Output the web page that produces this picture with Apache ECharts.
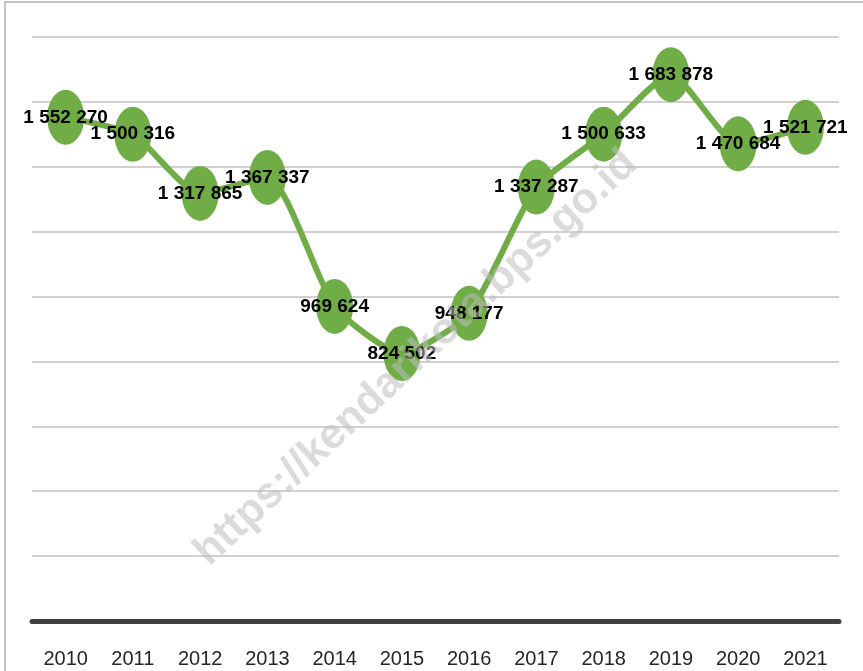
<!DOCTYPE html>
<html>
<head>
<meta charset="utf-8">
<script src="https://cdn.jsdelivr.net/npm/echarts@6/dist/echarts.min.js"></script>
<style>
  html, body { margin: 0; padding: 0; background: #fff; }
  #chart { width: 863px; height: 671px; }
</style>
</head>
<body>
<div id="chart"></div>
<script>
// data
const years = ["2010", "2011", "2012", "2013", "2014", "2015", "2016", "2017", "2018", "2019", "2020", "2021"];
const values = [1552270, 1500316, 1317865, 1367337, 969624, 824502, 948177, 1337287, 1500633, 1683878, 1470684, 1521721];

// "1 552 270" style
const fmt = (v) => String(v).replace(/\B(?=(\d{3})+(?!\d))/g, " ");

const chart = echarts.init(document.getElementById("chart"));
const option = {
  animation: false,
  backgroundColor: "#fff",
  grid: { left: 32, right: 24, top: 37, bottom: 50 },
  xAxis: {
    type: "category",
    data: years,
    boundaryGap: true,
    axisLine: { lineStyle: { color: "#404040", width: 5 } },
    axisTick: { show: false },
    axisLabel: {
      interval: 0,
      margin: 28,
      color: "#262626",
      fontSize: 20,
      fontFamily: "'Liberation Sans', Arial, sans-serif",
    },
  },
  yAxis: {
    type: "value",
    min: 0,
    max: 1800000,
    interval: 200000,
    axisLabel: { show: false },
    axisLine: { show: false },
    axisTick: { show: false },
    splitLine: { lineStyle: { color: "#d0d0d0", width: 2 } },
  },
  series: [
    {
      type: "line",
      data: values,
      smooth: 0.2,
      showAllSymbol: true,
      symbol: "path://M50,0A50,50,0,1,1,50,100A50,50,0,1,1,50,0Z",
      symbolSize: [37, 55],
      itemStyle: { color: "#70ad47" },
      lineStyle: { color: "#70ad47", width: 6 },
      label: {
        show: true,
        position: "inside",
        offset: [0, 3],
        formatter: (p) => fmt(p.value),
        color: "#000",
        fontSize: 19,
        fontWeight: "bold",
        fontFamily: "'Liberation Sans', Arial, sans-serif",
      },
      labelLayout: { hideOverlap: false },
      z: 3,
    },
  ],
  graphic: [
    {
      type: "rect",
      silent: true,
      z: -1,
      shape: { x: 5, y: 2, width: 900, height: 700 },
      style: { fill: "none", stroke: "#c4c4c4", lineWidth: 2 },
    },
    {
      type: "text",
      silent: true,
      z: 100,
      x: 416,
      y: 358,
      rotation: (43 * Math.PI) / 180,
      style: {
        text: "https://kendarikota.bps.go.id",
        fill: "rgba(190,190,190,0.55)",
        font: "bold 43px 'Liberation Sans', Arial, sans-serif",
        textAlign: "center",
        textVerticalAlign: "middle",
      },
    },
  ],
};
chart.setOption(option);
</script>
</body>
</html>
